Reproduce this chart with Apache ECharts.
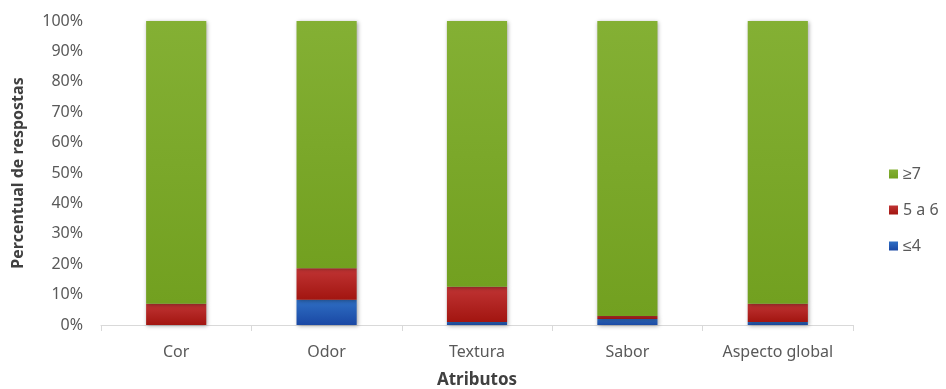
<!DOCTYPE html>
<html>
<head>
<meta charset="utf-8">
<script src="https://cdn.jsdelivr.net/npm/echarts@6/dist/echarts.min.js"></script>
<style>
  html, body { margin: 0; padding: 0; background: #fff; }
  #chart { width: 946px; height: 389px; }
</style>
</head>
<body>
<div id="chart"></div>
<script>
const categories = ['Cor', 'Odor', 'Textura', 'Sabor', 'Aspecto global'];
const lowScores = [0, 8.3, 1, 2, 1];        // ≤4
const midScores = [7, 10.4, 11.6, 1, 6];    // 5 a 6
const highScores = [93, 81.3, 87.4, 97, 93]; // ≥7

const font = 'Noto Sans, sans-serif';
const textColor = '#595959';

function grad(top, bottom) {
  return new echarts.graphic.LinearGradient(0, 0, 0, 1, [
    { offset: 0, color: top },
    { offset: 1, color: bottom }
  ]);
}

const chart = echarts.init(document.getElementById('chart'));

const barStyle = {
  shadowColor: 'rgba(0,0,0,0.35)',
  shadowBlur: 4,
  shadowOffsetX: 1,
  shadowOffsetY: 1
};

chart.setOption({
  animation: false,
  textStyle: { fontFamily: font },
  grid: { left: 101, right: 93, top: 21, bottom: 64, outerBoundsMode: 'none', containLabel: false },
  legend: {
    orient: 'vertical',
    left: 884,
    top: 161,
    itemWidth: 9,
    itemHeight: 9,
    itemGap: 20,
    icon: 'rect',
    textStyle: { fontSize: 16, color: textColor, fontFamily: font },
    data: ['≥7', '5 a 6', '≤4']
  },
  xAxis: {
    type: 'category',
    data: categories,
    name: 'Atributos',
    nameLocation: 'middle',
    nameGap: 47,
    nameTextStyle: { fontSize: 17, fontWeight: 'bold', color: '#404040', fontFamily: font },
    axisLine: { lineStyle: { color: '#d9d9d9' } },
    axisTick: { show: true, length: 6, lineStyle: { color: '#d9d9d9' } },
    axisLabel: { fontSize: 16, color: textColor, margin: 19 }
  },
  yAxis: {
    type: 'value',
    min: 0,
    max: 100,
    interval: 10,
    name: 'Percentual de respostas',
    nameLocation: 'middle',
    nameGap: 75,
    nameTextStyle: { fontSize: 16, fontWeight: 'bold', color: '#404040', fontFamily: font },
    axisLine: { show: false },
    axisTick: { show: false },
    splitLine: { show: false },
    axisLabel: { fontSize: 16, color: textColor, margin: 18, formatter: '{value}%' }
  },
  series: [
    {
      name: '≤4',
      type: 'bar',
      stack: 'total',
      barWidth: '40%',
      data: lowScores,
      itemStyle: Object.assign({ color: grad('#2f6fc4', '#1a48a4') }, barStyle)
    },
    {
      name: '5 a 6',
      type: 'bar',
      stack: 'total',
      barWidth: '40%',
      data: midScores,
      itemStyle: Object.assign({ color: grad('#c03434', '#a21510') }, barStyle)
    },
    {
      name: '≥7',
      type: 'bar',
      stack: 'total',
      barWidth: '40%',
      data: highScores,
      itemStyle: Object.assign({ color: grad('#84b034', '#72a020') }, barStyle)
    }
  ]
});
</script>
</body>
</html>
